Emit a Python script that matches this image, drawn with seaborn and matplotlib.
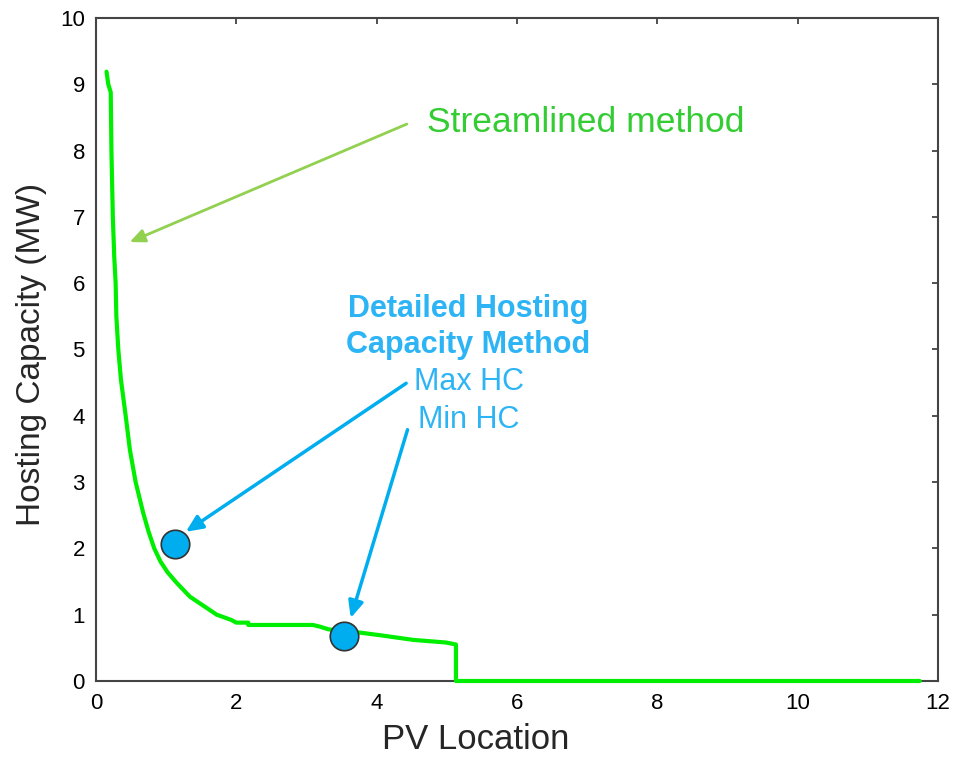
import matplotlib
matplotlib.use("Agg")
import matplotlib.pyplot as plt
import seaborn as sns
import pandas as pd

# ---- data ----
pv_location = [0.15, 0.175, 0.21, 0.22, 0.24, 0.26, 0.28, 0.29, 0.318, 0.356,
               0.423, 0.484, 0.565, 0.674, 0.75, 0.83, 0.92, 1.02, 1.15, 1.34,
               1.58, 1.72, 1.93, 2.0, 2.17, 2.17, 3.09, 3.19, 3.31, 3.53, 3.76,
               4.05, 4.52, 4.99, 5.13, 5.13, 11.74]
hosting_capacity = [9.19, 9.0, 8.88, 8.0, 7.0, 6.4, 6.0, 5.5, 5.0, 4.54,
                    4.0, 3.48, 3.0, 2.53, 2.25, 2.0, 1.8, 1.64, 1.48, 1.27,
                    1.10, 1.0, 0.92, 0.88, 0.88, 0.845, 0.845, 0.82, 0.78, 0.75, 0.73,
                    0.69, 0.62, 0.58, 0.55, 0.0, 0.0]

detailed_labels = ["Max HC", "Min HC"]
detailed_x = [1.125, 3.53]
detailed_y = [2.07, 0.68]

xticks = [0, 2, 4, 6, 8, 10, 12]
yticks = [0, 1, 2, 3, 4, 5, 6, 7, 8, 9, 10]

curve = pd.DataFrame({"x": pv_location, "y": hosting_capacity})
points = pd.DataFrame({"x": detailed_x, "y": detailed_y, "label": detailed_labels})

sns.set_style("white")
plt.rcParams["font.family"] = ["Liberation Sans", "DejaVu Sans"]

fig = plt.figure(figsize=(9.59, 7.58), dpi=100)
ax = fig.add_axes([0.1001, 0.1016, 0.878, 0.8747])

sns.lineplot(data=curve, x="x", y="y", ax=ax, color="#00ee00", linewidth=3.0,
             sort=False, estimator=None)
for ln in ax.lines:
    ln.set_clip_on(False)
    ln.set_zorder(3)
    ln.set_solid_joinstyle("round")
sns.scatterplot(data=points, x="x", y="y", ax=ax, s=420, color="#00aeef",
                edgecolor="#333333", linewidth=1.2, zorder=5, legend=False)

ax.set_xlim(0, 12)
ax.set_ylim(0, 10)
ax.set_xticks(xticks)
ax.set_yticks(yticks)
ax.tick_params(direction="in", length=4, width=1.2, top=True, right=True,
               labelsize=16, colors="#333333", labelcolor="black")
ax.tick_params(axis="x", pad=9)
ax.tick_params(axis="y", pad=8)
for sp in ax.spines.values():
    sp.set_color("#444444")
    sp.set_linewidth(1.5)

ax.set_xlabel("PV Location", fontsize=25)
ax.set_ylabel("Hosting Capacity (MW)", fontsize=24)
ax.xaxis.set_label_coords(0.451, -0.063)
ax.yaxis.set_label_coords(-0.058, 0.492)

# Streamlined annotation
ax.text(4.715, 8.28, "Streamlined method", fontsize=25.5, color="#33cc33",
        ha="left", va="baseline")
ax.annotate("", xy=(0.48, 6.62), xytext=(4.43, 8.4),
            arrowprops=dict(arrowstyle="-|>,head_length=0.9,head_width=0.4",
                            color="#92d050", lw=2, shrinkA=0, shrinkB=0))

# Detailed method annotation
blue_txt = "#2db4f5"
ax.text(5.31, 5.49, "Detailed Hosting", fontsize=22, fontweight="bold",
        color=blue_txt, ha="center", va="baseline")
ax.text(5.31, 4.95, "Capacity Method", fontsize=22, fontweight="bold",
        color=blue_txt, ha="center", va="baseline")
ax.text(5.31, 4.39, detailed_labels[0], fontsize=22, color=blue_txt,
        ha="center", va="baseline")
ax.text(5.31, 3.82, detailed_labels[1], fontsize=22, color=blue_txt,
        ha="center", va="baseline")

ax.annotate("", xy=(1.28, 2.25), xytext=(4.42, 4.49),
            arrowprops=dict(arrowstyle="-|>,head_length=1.0,head_width=0.45",
                            color="#00aeef", lw=2.5, shrinkA=0, shrinkB=0))
ax.annotate("", xy=(3.63, 0.95), xytext=(4.44, 3.79),
            arrowprops=dict(arrowstyle="-|>,head_length=1.0,head_width=0.45",
                            color="#00aeef", lw=2.5, shrinkA=0, shrinkB=0))

fig.savefig("out.png", dpi=100)
